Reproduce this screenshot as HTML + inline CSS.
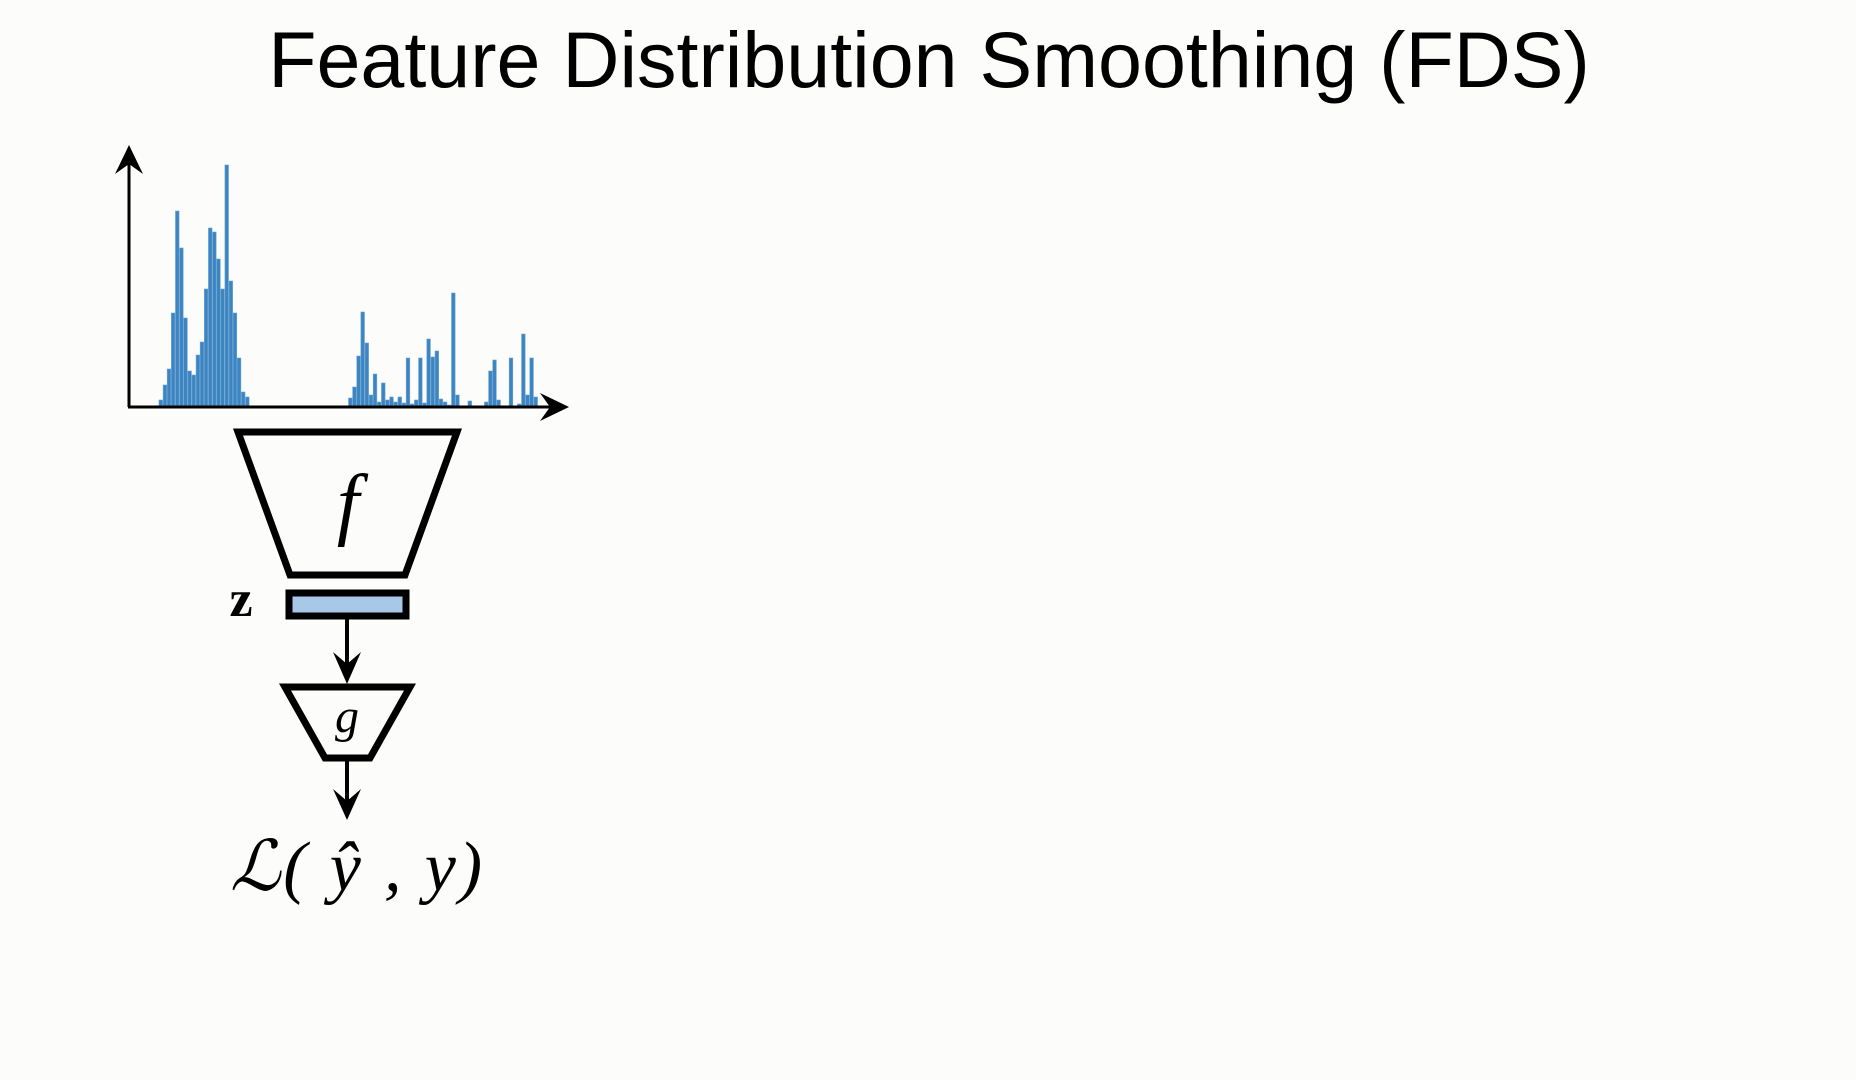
<!DOCTYPE html>
<html><head><meta charset="utf-8"><style>
html,body{margin:0;padding:0;background:#fcfcfa;}
svg{display:block}
</style></head><body>
<svg width="1856" height="1080" viewBox="0 0 1856 1080" xmlns="http://www.w3.org/2000/svg">
<rect width="1856" height="1080" fill="#fcfcfa"/>
<text x="929" y="87" text-anchor="middle" font-family="Liberation Sans, sans-serif" font-size="79" fill="#000">Feature Distribution Smoothing (FDS)</text>
<g id="bars"></g>
<g>
<line x1="129" y1="407" x2="129" y2="155" stroke="#000" stroke-width="3"/>
<polygon points="129,145 115,174 129,164 143,174" fill="#000"/>
<line x1="128" y1="407" x2="560" y2="407" stroke="#000" stroke-width="3"/>
<polygon points="569,407 540,393 550,407 540,421" fill="#000"/>
</g>
<polygon points="238,432 457,432 405,575 290,575" fill="none" stroke="#000" stroke-width="7" stroke-linejoin="miter"/>
<text x="348" y="530" text-anchor="middle" font-family="Liberation Serif, serif" font-style="italic" font-size="80">f</text>
<text x="241" y="616" text-anchor="middle" font-family="Liberation Serif, serif" font-weight="bold" font-size="52">z</text>
<rect x="289" y="593" width="117" height="23" fill="#a8c8e8" stroke="#000" stroke-width="7"/>
<line x1="347" y1="619" x2="347" y2="670" stroke="#000" stroke-width="4"/>
<polygon points="347,684 333,652 347,664 361,652" fill="#000"/>
<polygon points="285,687 410,687 370,758 325,758" fill="none" stroke="#000" stroke-width="7"/>
<text x="347" y="732" text-anchor="middle" font-family="Liberation Serif, serif" font-style="italic" font-size="48">g</text>
<line x1="347" y1="758" x2="347" y2="805" stroke="#000" stroke-width="4"/>
<polygon points="347,820 333,789 347,801 361,789" fill="#000"/>
<text x="230" y="890" font-family="Liberation Serif, serif" font-style="italic" font-size="70" textLength="252" lengthAdjust="spacing">ℒ( ŷ , y)</text>
</svg>
<script>
const binIndex = [0,1,2,3,4,5,6,7,8,9,10,11,12,13,14,15,16,17,18,19,20,21,
46,47,48,49,50,51,52,53,54,55,56,57,58,59,60,61,62,63,64,65,66,67,68,69,70,71,72,
75,79,80,81,82,85,87,88,89,90,91];
const binCount = [6,21,37,93,195,158,88,35,31,51,64,117,178,174,147,117,241,125,93,48,14,9,
8,19,50,94,63,11,32,4,23,6,9,4,9,3,48,2,6,48,3,67,49,55,7,4,1,113,11,
5,4,35,46,6,48,2,72,11,48,9];
const xLeft = 159, binStep = 4.12, barW = 3.6, baseY = 406, yScale = 1;
function xPos(i){ return xLeft + i * binStep; }
function yPos(v){ return baseY - v * yScale; }
const g = document.getElementById('bars');
const ns = 'http://www.w3.org/2000/svg';
for (let k = 0; k < binIndex.length; k++) {
  const r = document.createElementNS(ns, 'rect');
  r.setAttribute('x', xPos(binIndex[k]));
  r.setAttribute('y', yPos(binCount[k]));
  r.setAttribute('width', barW);
  r.setAttribute('height', baseY - yPos(binCount[k]));
  r.setAttribute('fill', '#3d84c0');
  r.setAttribute('stroke', '#6aa6d6');
  r.setAttribute('stroke-width', '0.6');
  
  
  g.appendChild(r);
}
</script>
</body></html>
